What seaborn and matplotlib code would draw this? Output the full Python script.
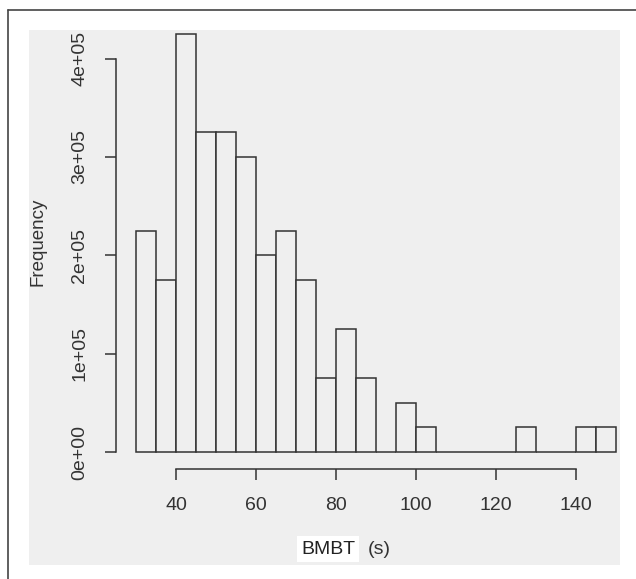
import numpy as np
import pandas as pd
import matplotlib
matplotlib.use("Agg")
import matplotlib.pyplot as plt
from matplotlib.patches import Rectangle
from matplotlib.lines import Line2D
import seaborn as sns

# histogram bins (BMBT in seconds) and counts
bin_edges = [30, 35, 40, 45, 50, 55, 60, 65, 70, 75, 80, 85, 90, 95, 100,
             105, 110, 115, 120, 125, 130, 135, 140, 145, 150]
counts = [225000, 175000, 425000, 325000, 325000, 300000, 200000, 225000,
          175000, 75000, 125000, 75000, 0, 50000, 25000,
          0, 0, 0, 0, 25000, 0, 0, 25000, 25000]
x_ticks = [40, 60, 80, 100, 120, 140]
y_ticks = [0, 100000, 200000, 300000, 400000]
y_tick_labels = ["0e+00", "1e+05", "2e+05", "3e+05", "4e+05"]

W, H = 636, 579
panel_col = "#efefef"
edge_col = "#333333"

sns.set_style("white")
plt.rcParams["font.family"] = ["Liberation Sans", "DejaVu Sans"]

fig = plt.figure(figsize=(W / 100, H / 100), dpi=100)
fig.patch.set_facecolor("white")

# grey panel and the outer frame lines
fig.add_artist(Rectangle((29 / W, 1 - 565 / H), (620 - 29) / W, (565 - 30) / H,
                         transform=fig.transFigure, facecolor=panel_col,
                         edgecolor="none", zorder=0))
fig.add_artist(Line2D([8 / W, 1], [1 - 10 / H, 1 - 10 / H], transform=fig.transFigure,
                      color="#444444", lw=1.2))
fig.add_artist(Line2D([8 / W, 8 / W], [0, 1 - 10 / H], transform=fig.transFigure,
                      color="#444444", lw=1.2))

ax = fig.add_axes([136 / W, (H - 452) / H, 480 / W, (452 - 34) / H])
ax.set_facecolor("none")

df = pd.DataFrame({"mid": [(a + b) / 2 for a, b in zip(bin_edges[:-1], bin_edges[1:])],
                   "freq": counts})
sns.histplot(data=df, x="mid", weights="freq", bins=bin_edges, ax=ax,
             color=panel_col, alpha=1, edgecolor=edge_col, linewidth=1.1)
for p in ax.patches:
    p.set_clip_on(False)

ax.set_xlim(30, 150)
ax.set_ylim(0, 425000)

for s in ["top", "right"]:
    ax.spines[s].set_visible(False)
ax.spines["bottom"].set_position(("outward", 12.2))
ax.spines["left"].set_position(("outward", 14.4))
ax.spines["bottom"].set_bounds(40, 140)
ax.spines["left"].set_bounds(0, 400000)
for s in ["bottom", "left"]:
    ax.spines[s].set_color(edge_col)
    ax.spines[s].set_linewidth(1.1)

ax.set_xticks(x_ticks)
ax.set_yticks(y_ticks)
ax.set_yticklabels(y_tick_labels, rotation=90, va="center")
ax.tick_params(axis="both", bottom=True, left=True, direction="out", length=8,
               width=1.1, color=edge_col, labelsize=14, labelcolor="#333333", pad=12)
ax.tick_params(axis="x", pad=12.5)

ax.set_xlabel("")
ax.set_ylabel("")
fig.text(38 / W, 1 - 242 / H, "Frequency", rotation=90, ha="center", va="center",
         fontsize=13.5, color="#333333")
fig.text(328 / W, 1 - 549 / H, "BMBT", ha="center", va="center", fontsize=14,
         color="#222222",
         bbox=dict(facecolor="white", edgecolor="none", pad=3))
fig.text(379 / W, 1 - 549 / H, "(s)", ha="center", va="center", fontsize=14,
         color="#333333")

fig.savefig("out.png", dpi=100, facecolor="white")
